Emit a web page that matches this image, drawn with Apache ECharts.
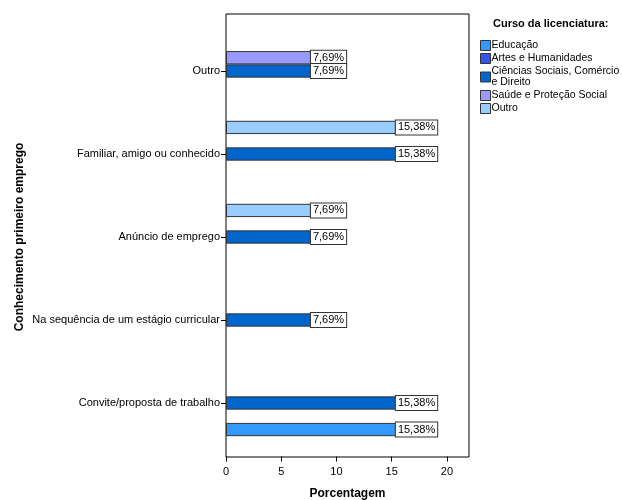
<!DOCTYPE html>
<html>
<head>
<meta charset="utf-8">
<script src="https://cdn.jsdelivr.net/npm/echarts@6/dist/echarts.min.js"></script>
<style>html,body{margin:0;padding:0;background:#fff}#c{width:622px;height:500px}</style>
</head>
<body>
<div id="c"></div>
<script>
const categories = ['Convite/proposta de trabalho', 'Na sequência de um estágio curricular', 'Anúncio de emprego', 'Familiar, amigo ou conhecido', 'Outro'];
const seriesNames = ['Educação', 'Artes e Humanidades', 'Ciências Sociais, Comércio e Direito', 'Saúde e Proteção Social', 'Outro'];
const educacao = [15.38, null, null, null, null];
const artes = [null, null, null, null, null];
const ciencias = [15.38, 7.69, 7.69, 15.38, 7.69];
const saude = [null, null, null, null, 7.69];
const outro = [null, null, 7.69, 15.38, null];
const xTicks = [0, 5, 10, 15, 20];
const colors = ['#3399ff', '#3355ee', '#0066cc', '#9999ff', '#99ccff'];
const values = [educacao, artes, ciencias, saude, outro];

const FONT = "'Liberation Sans', Arial, sans-serif";
const chart = echarts.init(document.getElementById('c'));

const series = [];
for (let i = seriesNames.length - 1; i >= 0; i--) {
  series.push({
    name: seriesNames[i],
    type: 'bar',
    xAxisIndex: 1, yAxisIndex: 1,
    data: values[i],
    barGap: '0%',
    barCategoryGap: '20%',
    itemStyle: { color: colors[i], borderColor: '#333', borderWidth: 1 },
    label: {
      show: true, position: 'right', distance: 0,
      formatter: p => p.value.toFixed(2).replace('.', ',') + '%',
      fontFamily: FONT, fontSize: 11, color: '#000',
      backgroundColor: '#fff', borderColor: '#333', borderWidth: 1,
      padding: [2, 2, 1, 2]
    }
  });
}

chart.setOption({
  animation: false,
  textStyle: { fontFamily: FONT },
  title: {
    text: 'Curso da licenciatura:', left: 493, top: 18, padding: 0,
    textStyle: { fontFamily: FONT, fontSize: 11, fontWeight: 'bold', color: '#000' }
  },
  legend: {
    data: seriesNames, orient: 'vertical', left: 480, top: 40, padding: 0,
    itemWidth: 10, itemHeight: 10, itemGap: 2,
    icon: 'rect',
    itemStyle: { borderColor: '#333', borderWidth: 1 },
    formatter: n => n === 'Ciências Sociais, Comércio e Direito' ? 'Ciências Sociais, Comércio\ne Direito' : n,
    textStyle: { fontFamily: FONT, fontSize: 10.5, color: '#000', lineHeight: 11, padding: [0, 0, 0, -4] },
    selectedMode: false
  },
  grid: [
    { left: 226, right: 153, top: 14, bottom: 43, show: true, borderColor: '#000', borderWidth: 1, backgroundColor: '#fff', containLabel: false, outerBoundsMode: 'none' },
    { left: 226, right: 153, top: 29.5, bottom: 55.5, containLabel: false, outerBoundsMode: 'none' }
  ],
  xAxis: [
    { gridIndex: 0, type: 'value', show: false, min: 0, max: 22 },
    {
      gridIndex: 1, type: 'value', min: 0, max: 22, interval: 5, offset: 12,
      name: 'Porcentagem', nameLocation: 'middle', nameGap: 31,
      nameTextStyle: { fontFamily: FONT, fontSize: 12, fontWeight: 'bold', color: '#000' },
      axisLine: { show: false },
      axisTick: { show: true, length: 5, lineStyle: { color: '#000' } },
      axisLabel: { fontFamily: FONT, fontSize: 11, color: '#000', margin: 10, showMaxLabel: false,
        formatter: v => xTicks.includes(v) ? String(v) : '' },
      splitLine: { show: false }
    }
  ],
  yAxis: [
    { gridIndex: 0, type: 'value', show: false },
    {
      gridIndex: 1, type: 'category', data: categories,
      name: 'Conhecimento primeiro emprego', nameLocation: 'middle', nameGap: 200, nameRotate: 90,
      nameTextStyle: { fontFamily: FONT, fontSize: 12, fontWeight: 'bold', color: '#000' },
      axisLine: { show: false },
      axisTick: { show: true, alignWithLabel: true, length: 5, lineStyle: { color: '#000' } },
      axisLabel: { fontFamily: FONT, fontSize: 11, color: '#000', margin: 6 },
      splitLine: { show: false }
    }
  ],
  series: series
});
</script>
</body>
</html>
